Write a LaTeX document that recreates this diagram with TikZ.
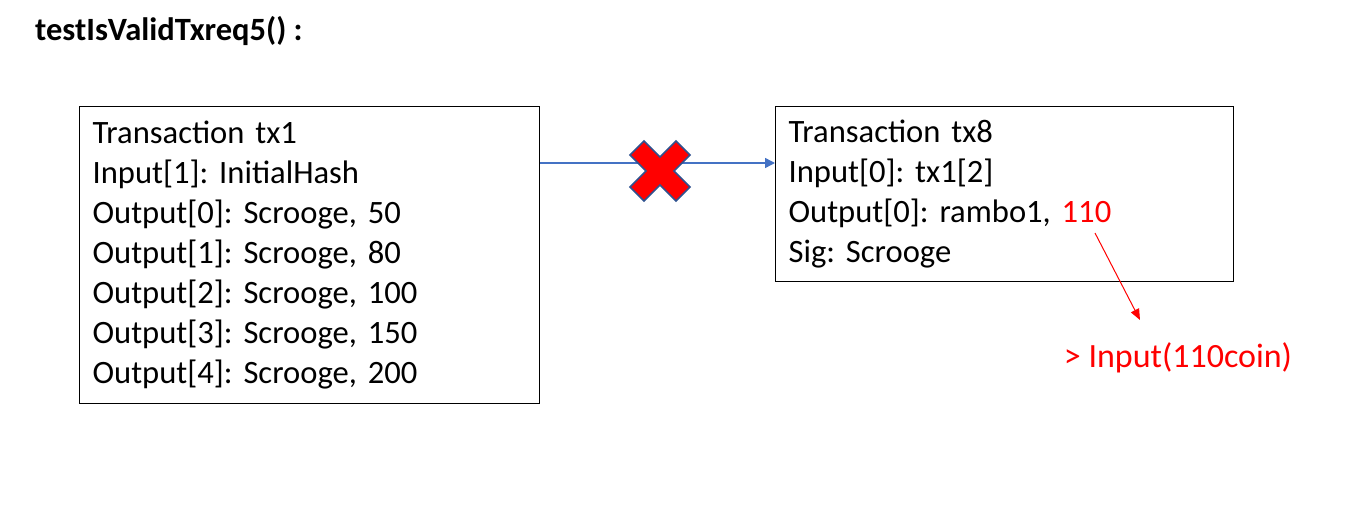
\documentclass[tikz,border=0pt]{standalone}
\usepackage{fontspec}
\setmainfont{Carlito}
\frenchspacing
\usetikzlibrary{arrows.meta}
\usetikzlibrary{positioning}
\definecolor{linkblue}{HTML}{4472C4}
\definecolor{crossedge}{HTML}{2F528F}
\definecolor{warnred}{HTML}{FF0000}
\tikzset{
  txbox/.style={draw, line width=1.2pt, anchor=north west, align=left,
    inner xsep=13pt, inner ysep=0pt, font=\fontsize{32.6}{40}\selectfont},
}

\begin{document}
\begin{tikzpicture}[x=1pt,y=-1pt]
            \useasboundingbox (0,0) rectangle (1360,522);
            \node[anchor=west, inner sep=0pt, font=\bfseries\fontsize{32.5}{38}\selectfont] (title) at (35,31) {testIsValidTxreq5() :};

            \node[txbox, minimum width=460pt, minimum height=297pt, text width=434pt] (tx1) at (79,106) {Transaction tx1\\Input[1]: InitialHash\\Output[0]: Scrooge, 50\\Output[1]: Scrooge, 80\\Output[2]: Scrooge, 100\\Output[3]: Scrooge, 150\\Output[4]: Scrooge, 200};
            \node[txbox, minimum width=458pt, minimum height=175pt, text width=432pt] (tx8) at (775,106) {Transaction tx8\\Input[0]: tx1[2]\\Output[0]: rambo1, \textcolor{warnred}{110}\\Sig: Scrooge};
            \node[anchor=center, inner sep=0pt, text=warnred, font=\fontsize{34}{40}\selectfont] (note) at (1178,358) {> Input(110coin)};

            \coordinate (linky) at (0,163);
            \coordinate (v110) at (1095,233);
            \coordinate (notetip) at (1140,320);

            \draw[-{Triangle[length=10pt,width=10pt]}, linkblue, line width=1.5pt] (tx1.east |- linky) -- (tx8.west |- linky);
            \draw[-{Triangle[length=11pt,width=9pt]}, warnred, line width=1pt] (v110) -- (notetip);

            % the cross over the link
            \draw[fill=warnred, draw=crossedge, line width=1.5pt, shift={(660,171)}]
              (-30,-16) -- (-16,-30) -- (0,-14) -- (16,-30) -- (30,-16) -- (14,0)
              -- (30,16) -- (16,30) -- (0,14) -- (-16,30) -- (-30,16) -- (-14,0) -- cycle;
        \end{tikzpicture}
\end{document}
